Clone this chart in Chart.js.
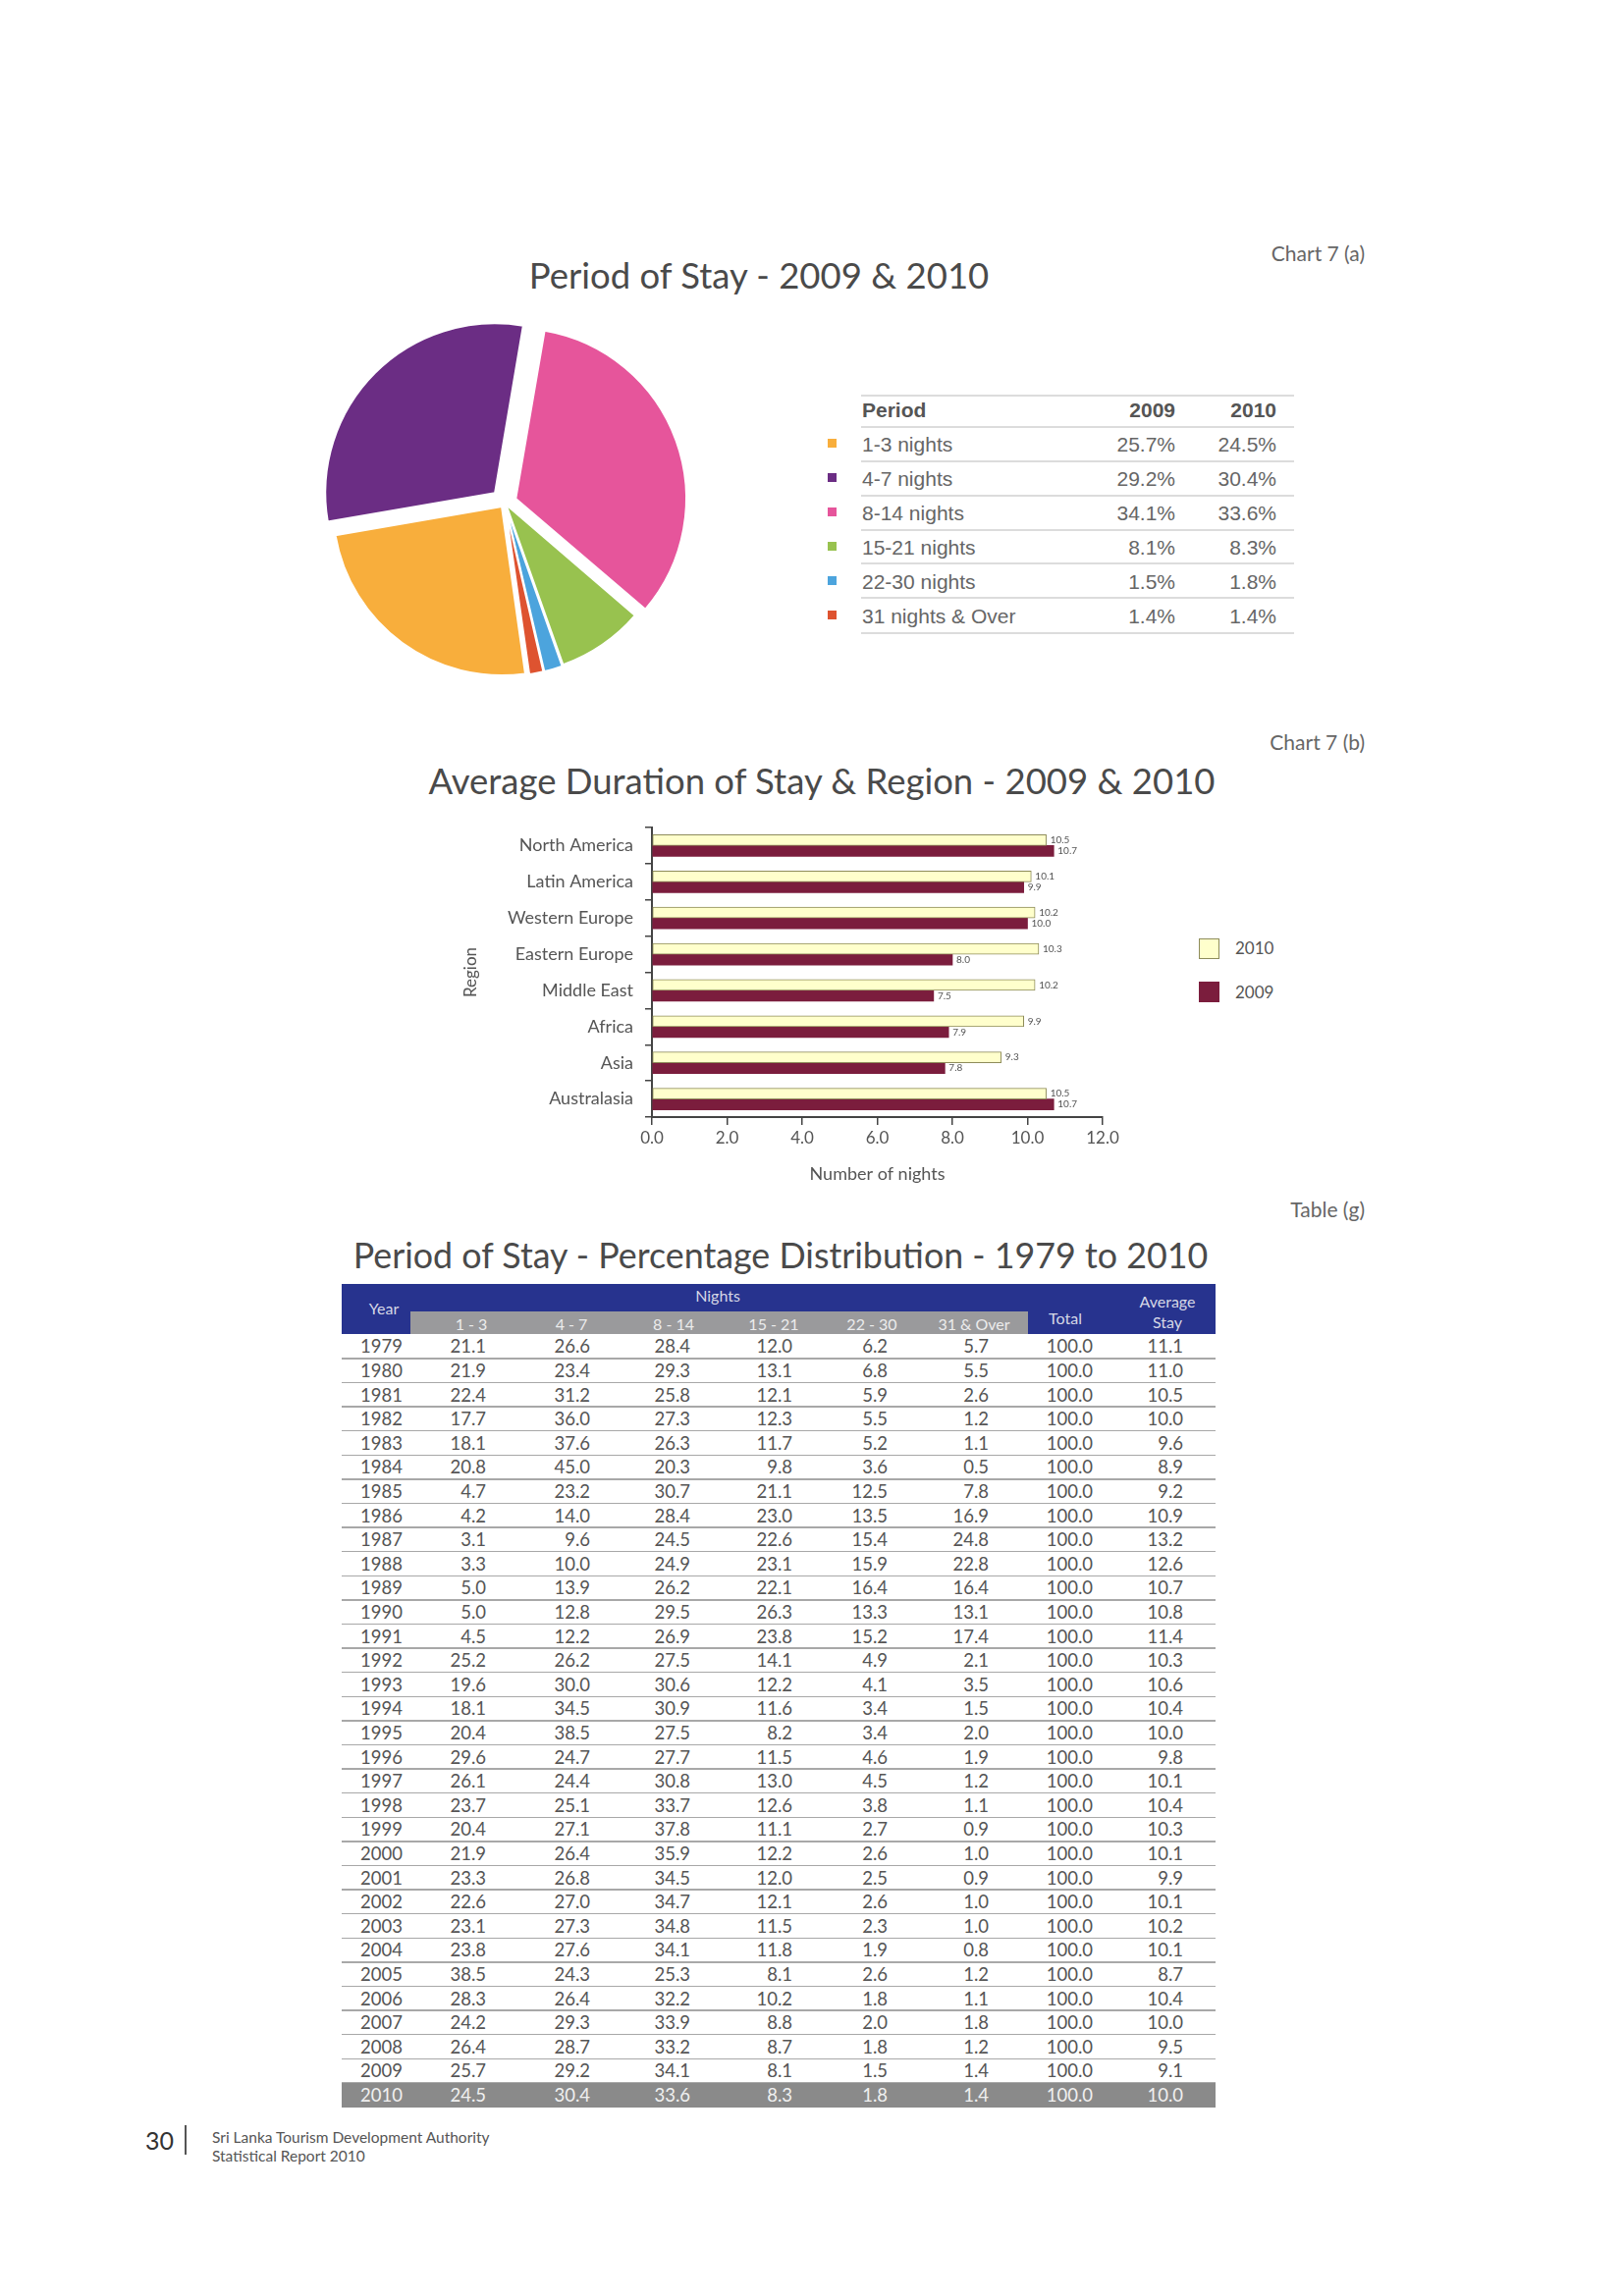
<!DOCTYPE html>
<html><head><meta charset="utf-8">
<title>Period of Stay 2009 &amp; 2010</title>
<script src="https://cdn.jsdelivr.net/npm/chart.js@4.4.1/dist/chart.umd.min.js"></script>
<style>
html,body{margin:0;padding:0}
body{width:1653px;height:2339px;position:relative;background:#fff;font-family:Lato,"Open Sans",sans-serif;color:#4a4a4a;overflow:hidden}
.a{position:absolute;white-space:nowrap;line-height:1}
.title{font-size:36.5px;color:#4a4a4a;transform:translate(-50%,-50%)}
.tag{font-size:21px;color:#666;transform:translate(-100%,-50%)}
#pieWrap{position:absolute;left:314px;top:312px;width:400px;height:400px}
#barWrap{position:absolute;left:462px;top:820px;width:700px;height:390px}
.lg{font-family:"Liberation Sans",Arial,sans-serif;font-size:21px;color:#666}
.lgh{font-weight:bold;color:#555}
.hl{position:absolute;height:2px;background:#dcdcdc}
.tc{font-size:18.5px;color:#555}
.th{font-size:16px;color:#d6d8e6}
</style></head><body>

<div class="a tag" style="left:1390px;top:257px">Chart 7 (a)</div>
<div class="a title" style="left:773px;top:280px">Period of Stay - 2009 &amp; 2010</div>
<div id="pieWrap"><canvas id="pie" width="400" height="400"></canvas></div>
<div id="pieLegend"></div>

<div class="a tag" style="left:1390px;top:755px">Chart 7 (b)</div>
<div class="a title" style="left:837px;top:795px">Average Duration of Stay &amp; Region - 2009 &amp; 2010</div>
<div id="barWrap"><canvas id="bar" width="700" height="390"></canvas></div>
<div id="barLegend"></div>

<div class="a tag" style="left:1390px;top:1231px">Table (g)</div>
<div class="a title" style="left:795px;top:1279px;font-size:35.8px">Period of Stay - Percentage Distribution - 1979 to 2010</div>
<div id="table"></div>

<div class="a" style="left:148px;top:2168px;font-size:25px;color:#333">30</div>
<div class="a" style="left:188px;top:2165px;width:2px;height:30px;background:#555"></div>
<div class="a" style="left:216px;top:2170px;font-size:15.5px;color:#555">Sri Lanka Tourism Development Authority</div>
<div class="a" style="left:216px;top:2189px;font-size:15.5px;color:#555">Statistical Report 2010</div>

<script>
// ---------- Chart 7 (a) data ----------
const periodLabels = ['1-3 nights','4-7 nights','8-14 nights','15-21 nights','22-30 nights','31 nights & Over'];
const period2009 = [25.7, 29.2, 34.1, 8.1, 1.5, 1.4];
const period2010 = [24.5, 30.4, 33.6, 8.3, 1.8, 1.4];

// ---------- Chart 7 (b) data ----------
const regions = ['North America','Latin America','Western Europe','Eastern Europe','Middle East','Africa','Asia','Australasia'];
const stay2010 = [10.5, 10.1, 10.2, 10.3, 10.2, 9.9, 9.3, 10.5];
const stay2009 = [10.7, 9.9, 10.0, 8.0, 7.5, 7.9, 7.8, 10.7];
const nightTicks = [0, 2, 4, 6, 8, 10, 12];

// ---------- Table (g) data ----------
const years   = [1979,1980,1981,1982,1983,1984,1985,1986,1987,1988,1989,1990,1991,1992,1993,1994,1995,1996,1997,1998,1999,2000,2001,2002,2003,2004,2005,2006,2007,2008,2009,2010];
const n1to3   = [21.1,21.9,22.4,17.7,18.1,20.8,4.7,4.2,3.1,3.3,5.0,5.0,4.5,25.2,19.6,18.1,20.4,29.6,26.1,23.7,20.4,21.9,23.3,22.6,23.1,23.8,38.5,28.3,24.2,26.4,25.7,24.5];
const n4to7   = [26.6,23.4,31.2,36.0,37.6,45.0,23.2,14.0,9.6,10.0,13.9,12.8,12.2,26.2,30.0,34.5,38.5,24.7,24.4,25.1,27.1,26.4,26.8,27.0,27.3,27.6,24.3,26.4,29.3,28.7,29.2,30.4];
const n8to14  = [28.4,29.3,25.8,27.3,26.3,20.3,30.7,28.4,24.5,24.9,26.2,29.5,26.9,27.5,30.6,30.9,27.5,27.7,30.8,33.7,37.8,35.9,34.5,34.7,34.8,34.1,25.3,32.2,33.9,33.2,34.1,33.6];
const n15to21 = [12.0,13.1,12.1,12.3,11.7,9.8,21.1,23.0,22.6,23.1,22.1,26.3,23.8,14.1,12.2,11.6,8.2,11.5,13.0,12.6,11.1,12.2,12.0,12.1,11.5,11.8,8.1,10.2,8.8,8.7,8.1,8.3];
const n22to30 = [6.2,6.8,5.9,5.5,5.2,3.6,12.5,13.5,15.4,15.9,16.4,13.3,15.2,4.9,4.1,3.4,3.4,4.6,4.5,3.8,2.7,2.6,2.5,2.6,2.3,1.9,2.6,1.8,2.0,1.8,1.5,1.8];
const n31plus = [5.7,5.5,2.6,1.2,1.1,0.5,7.8,16.9,24.8,22.8,16.4,13.1,17.4,2.1,3.5,1.5,2.0,1.9,1.2,1.1,0.9,1.0,0.9,1.0,1.0,0.8,1.2,1.1,1.8,1.2,1.4,1.4];
const totals  = [100.0,100.0,100.0,100.0,100.0,100.0,100.0,100.0,100.0,100.0,100.0,100.0,100.0,100.0,100.0,100.0,100.0,100.0,100.0,100.0,100.0,100.0,100.0,100.0,100.0,100.0,100.0,100.0,100.0,100.0,100.0,100.0];
const avgStay = [11.1,11.0,10.5,10.0,9.6,8.9,9.2,10.9,13.2,12.6,10.7,10.8,11.4,10.3,10.6,10.4,10.0,9.8,10.1,10.4,10.3,10.1,9.9,10.1,10.2,10.1,8.7,10.4,10.0,9.5,9.1,10.0];
const nightHeads = ['1 - 3','4 - 7','8 - 14','15 - 21','22 - 30','31 & Over'];

// ---------- styles ----------
const pieColors = ['#F8AE3C','#6B2D84','#E6559B','#98C24F','#4CA4DD','#DE5330'];
const pieOffsets = [20, 56, 48, 10, 10, 10];

function el(tag, cls, style, text){
  const d = document.createElement(tag);
  if (cls) d.className = cls;
  d.setAttribute('style', style);
  if (text !== undefined) d.textContent = text;
  return d;
}

// ---------- Pie ----------
new Chart(document.getElementById('pie'), {
  type: 'pie',
  data: { labels: periodLabels, datasets: [{ data: period2010, backgroundColor: pieColors, borderColor: '#ffffff', borderWidth: 2, offset: pieOffsets }] },
  options: {
    responsive: false, animation: false, radius: 172, rotation: 172,
    layout: { padding: 0 },
    plugins: { legend: { display: false }, tooltip: { enabled: false } }
  }
});

// pie legend table
(function(){
  const box = document.getElementById('pieLegend');
  [403,435,470,505,540,574,609,645].forEach(y => box.appendChild(el('div','hl','left:877px;width:441px;top:'+(y-1)+'px')));
  box.appendChild(el('div','a lg lgh','left:878px;top:407px','Period'));
  box.appendChild(el('div','a lg lgh','left:1197px;top:407px;transform:translateX(-100%)','2009'));
  box.appendChild(el('div','a lg lgh','left:1300px;top:407px;transform:translateX(-100%)','2010'));
  periodLabels.forEach((lab,i) => {
    const cy = 452 + i*35;
    box.appendChild(el('div','a','left:843px;top:'+(cy-5)+'px;width:9px;height:9px;background:'+pieColors[i]));
    box.appendChild(el('div','a lg','left:878px;top:'+(cy-10)+'px',lab));
    box.appendChild(el('div','a lg','left:1197px;top:'+(cy-10)+'px;transform:translateX(-100%)',period2009[i].toFixed(1)+'%'));
    box.appendChild(el('div','a lg','left:1300px;top:'+(cy-10)+'px;transform:translateX(-100%)',period2010[i].toFixed(1)+'%'));
  });
})();

// ---------- Bar ----------
const valueLabels = {
  id: 'valueLabels',
  afterDatasetsDraw(chart){
    const ctx = chart.ctx;
    ctx.save();
    ctx.font = '10px Lato';
    ctx.fillStyle = '#555';
    ctx.textBaseline = 'middle';
    ctx.textAlign = 'left';
    chart.data.datasets.forEach((ds, di) => {
      chart.getDatasetMeta(di).data.forEach((bar, i) => {
        ctx.fillText(ds.data[i].toFixed(1), bar.x + 4, bar.y);
      });
    });
    ctx.restore();
  }
};

new Chart(document.getElementById('bar'), {
  type: 'bar',
  data: {
    labels: regions,
    datasets: [
      { label: '2010', data: stay2010, backgroundColor: '#FFFFCC', borderColor: '#8E8C5A', borderWidth: 1, borderSkipped: false, barThickness: 11 },
      { label: '2009', data: stay2009, backgroundColor: '#7B1D3D', borderColor: '#6A1432', borderWidth: 0, barThickness: 11 }
    ]
  },
  options: {
    indexAxis: 'y', responsive: false, animation: false,
    layout: { padding: { top: 23, right: 39, bottom: 0, left: 0 } },
    plugins: { legend: { display: false }, tooltip: { enabled: false } },
    scales: {
      x: {
        min: nightTicks[0], max: nightTicks[nightTicks.length-1],
        afterBuildTicks: s => { s.ticks = nightTicks.map(v => ({ value: v })); },
        afterFit: s => { s.height = 72; },
        ticks: { callback: v => Number(v).toFixed(1), color: '#555', font: { family: 'Lato', size: 17 }, padding: 3 },
        grid: { drawOnChartArea: false, tickLength: 8, color: '#444', lineWidth: 1.5 },
        border: { color: '#444', width: 2 },
        title: { display: true, text: 'Number of nights', color: '#555', font: { family: 'Lato', size: 18 }, padding: { top: 0, bottom: 3 } }
      },
      y: {
        afterFit: s => { s.width = 202; },
        ticks: { color: '#555', font: { family: 'Lato', size: 18 }, padding: 12 },
        grid: { drawOnChartArea: false, tickLength: 7, color: '#444', lineWidth: 1.5, offset: true },
        border: { color: '#444', width: 2 },
        title: { display: true, text: 'Region', color: '#555', font: { family: 'Lato', size: 17 }, padding: { top: 7, bottom: 0 } }
      }
    }
  },
  plugins: [valueLabels]
});

// bar legend
(function(){
  const box = document.getElementById('barLegend');
  box.appendChild(el('div','a','left:1221px;top:956px;width:19px;height:19px;background:#FFFFCC;border:1px solid #8E8C5A'));
  box.appendChild(el('div','a','left:1221px;top:1000px;width:21px;height:21px;background:#7B1D3D'));
  box.appendChild(el('div','a','left:1258px;top:957px;font-size:17px;color:#555','2010'));
  box.appendChild(el('div','a','left:1258px;top:1002px;font-size:17px;color:#555','2009'));
})();

// ---------- Table ----------
(function(){
  const box = document.getElementById('table');
  const L = 348, R = 1238, top = 1308, hb = 1359, row0 = 1371.3, step = 24.6;
  box.appendChild(el('div','a','left:'+L+'px;top:'+top+'px;width:'+(R-L)+'px;height:'+(hb-top)+'px;background:#27338E'));
  box.appendChild(el('div','a','left:418px;top:1336px;width:629px;height:'+(hb-1336)+'px;background:#9A9A9C'));
  const ctr = (x,y,t,cls,extra) => box.appendChild(el('div','a '+cls,'left:'+x+'px;top:'+y+'px;transform:translate(-50%,-50%);'+(extra||''),t));
  ctr(391,1333,'Year','th');
  ctr(731,1320,'Nights','th');
  const centers = [480,582,686,788,888,992];
  nightHeads.forEach((h,i) => ctr(centers[i],1349,h,'th','color:#ececec'));
  ctr(1085,1343,'Total','th');
  ctr(1189,1326,'Average','th');
  ctr(1189,1347,'Stay','th');

  const rights = [495,601,703,807,904,1007];
  const cols = [n1to3,n4to7,n8to14,n15to21,n22to30,n31plus];
  years.forEach((yr,i) => {
    const cy = row0 + i*step;
    const last = i === years.length-1;
    if (last) box.appendChild(el('div','a','left:'+L+'px;top:'+(cy-step/2)+'px;width:'+(R-L)+'px;height:'+(step+1)+'px;background:#8A8A8A'));
    else box.appendChild(el('div','a','left:'+L+'px;top:'+(cy+step/2-0.5)+'px;width:'+(R-L)+'px;height:1.5px;background:#a8a8a8'));
    const color = last ? 'color:#f0f0f0;' : '';
    box.appendChild(el('div','a tc',color+'left:367px;top:'+cy+'px;transform:translateY(-50%)',String(yr)));
    cols.forEach((arr,c) => box.appendChild(el('div','a tc',color+'left:'+rights[c]+'px;top:'+cy+'px;transform:translate(-100%,-50%)',arr[i].toFixed(1))));
    box.appendChild(el('div','a tc',color+'left:1113px;top:'+cy+'px;transform:translate(-100%,-50%)',totals[i].toFixed(1)));
    box.appendChild(el('div','a tc',color+'left:1205px;top:'+cy+'px;transform:translate(-100%,-50%)',avgStay[i].toFixed(1)));
  });
})();
</script>
</body></html>
